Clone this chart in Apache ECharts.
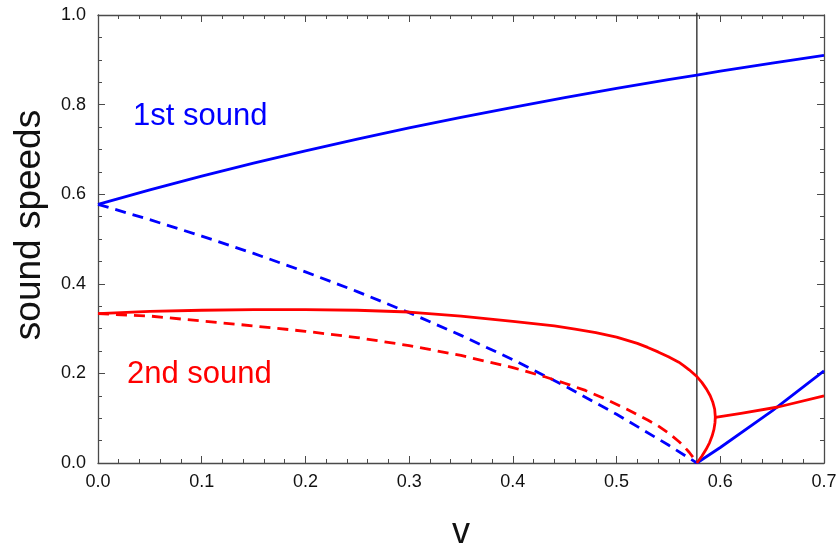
<!DOCTYPE html>
<html>
<head>
<meta charset="utf-8">
<script src="https://cdn.jsdelivr.net/npm/echarts@6/dist/echarts.min.js"></script>
<style>
  html, body { margin: 0; padding: 0; background: #fff; }
  #chart { width: 838px; height: 546px; }
</style>
</head>
<body>
<div id="chart"></div>
<script>
// First sound, co-moving branch (solid blue)
const firstPlusV = [0, 0.05, 0.1, 0.15, 0.2, 0.25, 0.3, 0.35, 0.4, 0.45, 0.5, 0.55, 0.5774, 0.6, 0.65, 0.7];
const firstPlusC = [0.5774, 0.6098, 0.6404, 0.6694, 0.6969, 0.7230, 0.7478, 0.7715, 0.7940, 0.8155, 0.8360, 0.8557, 0.8660, 0.8745, 0.8925, 0.9097];

// First sound, counter-moving branch (dashed blue)
const firstMinusV = [0, 0.05, 0.1, 0.15, 0.2, 0.25, 0.3, 0.35, 0.4, 0.45, 0.5, 0.55, 0.5774];
const firstMinusC = [0.5774, 0.5431, 0.5066, 0.4679, 0.4266, 0.3826, 0.3355, 0.2849, 0.2306, 0.1721, 0.1088, 0.0401, 0];

// First sound beyond the critical velocity (solid blue)
const firstBeyondV = [0.5774, 0.6, 0.65, 0.7];
const firstBeyondC = [0, 0.0346, 0.1162, 0.2058];

// Second sound, upper branch folding back at the turning point (solid red)
const secondPlusV = [0, 0.05, 0.1, 0.15, 0.2, 0.25, 0.3, 0.35, 0.4, 0.42, 0.44, 0.46, 0.48, 0.5, 0.52, 0.53, 0.54, 0.55, 0.56, 0.565, 0.57, 0.5774,
                     0.5822, 0.5867, 0.5903, 0.5929, 0.5946, 0.5952, 0.5949, 0.5939, 0.5921, 0.5896, 0.5862, 0.5822, 0.5774];
const secondPlusC = [0.3333, 0.3385, 0.341, 0.3425, 0.3425, 0.341, 0.337, 0.328, 0.316, 0.311, 0.306, 0.299, 0.291, 0.281, 0.267, 0.258, 0.248, 0.237, 0.225, 0.217, 0.208, 0.193,
                     0.180, 0.165, 0.150, 0.135, 0.120, 0.103, 0.090, 0.075, 0.060, 0.045, 0.030, 0.015, 0];

// Second sound, counter-moving branch (dashed red)
const secondMinusV = [0, 0.05, 0.1, 0.15, 0.2, 0.25, 0.3, 0.35, 0.4, 0.43, 0.45, 0.47, 0.49, 0.51, 0.53, 0.54, 0.55, 0.56, 0.565, 0.57, 0.574, 0.5774];
const secondMinusC = [0.3333, 0.328, 0.317, 0.306, 0.294, 0.280, 0.262, 0.240, 0.213, 0.193, 0.178, 0.162, 0.142, 0.120, 0.096, 0.083, 0.067, 0.048, 0.037, 0.024, 0.012, 0];

// Second sound branch starting at the turning point (solid red)
const secondBranchV = [0.5952, 0.62, 0.6557, 0.7];
const secondBranchC = [0.102, 0.111, 0.125, 0.150];

// Critical velocity marker
const criticalV = [0.5774, 0.5774];
const criticalC = [0, 1.005];

const xTicks = { min: 0, max: 0.7, step: 0.1 };
const yTicks = { min: 0, max: 1.0, step: 0.2 };

const pairs = (xs, ys) => xs.map((x, i) => [x, ys[i]]);

const BLUE = '#0000ff';
const RED = '#ff0000';
const FRAME = '#4a4a4a';
const FONT = 'Liberation Sans, Arial, sans-serif';
const LABEL_FONT = { fontFamily: FONT, fontSize: 18, color: '#111' };

function frameAxis(extra) {
  return Object.assign({
    type: 'value',
    axisLine: { show: true, onZero: false, lineStyle: { color: FRAME, width: 1.3 } },
    axisTick: { show: true, inside: true, length: 7, lineStyle: { color: FRAME, width: 1 } },
    splitLine: { show: false },
    minorSplitLine: { show: false }
  }, extra);
}

const minor = n => ({ show: true, splitNumber: n, length: 4, lineStyle: { color: FRAME, width: 1 } });

const lineSeries = (data, color, dashed, extra) => Object.assign({
  type: 'line',
  data,
  showSymbol: false,
  smooth: false,
  animation: false,
  xAxisIndex: 0,
  yAxisIndex: 0,
  lineStyle: { color, width: 2.8, type: dashed ? [11, 7] : 'solid', cap: 'butt', join: 'round' },
  z: 3
}, extra || {});

const chart = echarts.init(document.getElementById('chart'), null, { renderer: 'canvas' });

chart.setOption({
  animation: false,
  backgroundColor: '#fff',
  grid: { left: 98, right: 14, top: 15, bottom: 83, containLabel: false, outerBoundsMode: 'none' },
  xAxis: [
    frameAxis({
      position: 'bottom',
      min: xTicks.min, max: xTicks.max, interval: xTicks.step,
      minorTick: minor(5),
      axisLabel: Object.assign({ margin: 10, formatter: v => v.toFixed(1) }, LABEL_FONT),
      name: 'v',
      nameLocation: 'middle',
      nameGap: 52,
      nameTextStyle: { fontFamily: FONT, fontSize: 36, color: '#111' }
    }),
    frameAxis({
      position: 'top',
      min: xTicks.min, max: xTicks.max, interval: xTicks.step,
      minorTick: minor(5),
      axisLabel: { show: false }
    })
  ],
  yAxis: [
    frameAxis({
      position: 'left',
      min: yTicks.min, max: yTicks.max, interval: yTicks.step,
      minorTick: minor(4),
      axisLabel: Object.assign({ margin: 12, formatter: v => v.toFixed(1) }, LABEL_FONT)
    }),
    frameAxis({
      position: 'right',
      min: yTicks.min, max: yTicks.max, interval: yTicks.step,
      minorTick: minor(4),
      axisLabel: { show: false }
    })
  ],
  series: [
    lineSeries(pairs(criticalV, criticalC), '#333', false, { lineStyle: { color: '#333', width: 1.4 }, clip: false, z: 2 }),
    lineSeries(pairs(firstPlusV, firstPlusC), BLUE, false),
    lineSeries(pairs(firstMinusV, firstMinusC), BLUE, true),
    lineSeries(pairs(firstBeyondV, firstBeyondC), BLUE, false),
    lineSeries(pairs(secondPlusV, secondPlusC), RED, false),
    lineSeries(pairs(secondMinusV, secondMinusC), RED, true),
    lineSeries(pairs(secondBranchV, secondBranchC), RED, false)
  ],
  graphic: [
    {
      // vertical axis title
      type: 'text', x: 30, y: 225, rotation: Math.PI / 2,
      style: { text: 'sound speeds', fill: '#111', fontSize: 37, fontFamily: FONT, align: 'center', verticalAlign: 'middle' }
    },
    {
      type: 'text', left: 133, top: 101,
      style: { text: '1st sound', fill: BLUE, fontSize: 31, fontFamily: FONT }
    },
    {
      type: 'text', left: 127, top: 359,
      style: { text: '2nd sound', fill: RED, fontSize: 31, fontFamily: FONT }
    }
  ]
});
</script>
</body>
</html>
